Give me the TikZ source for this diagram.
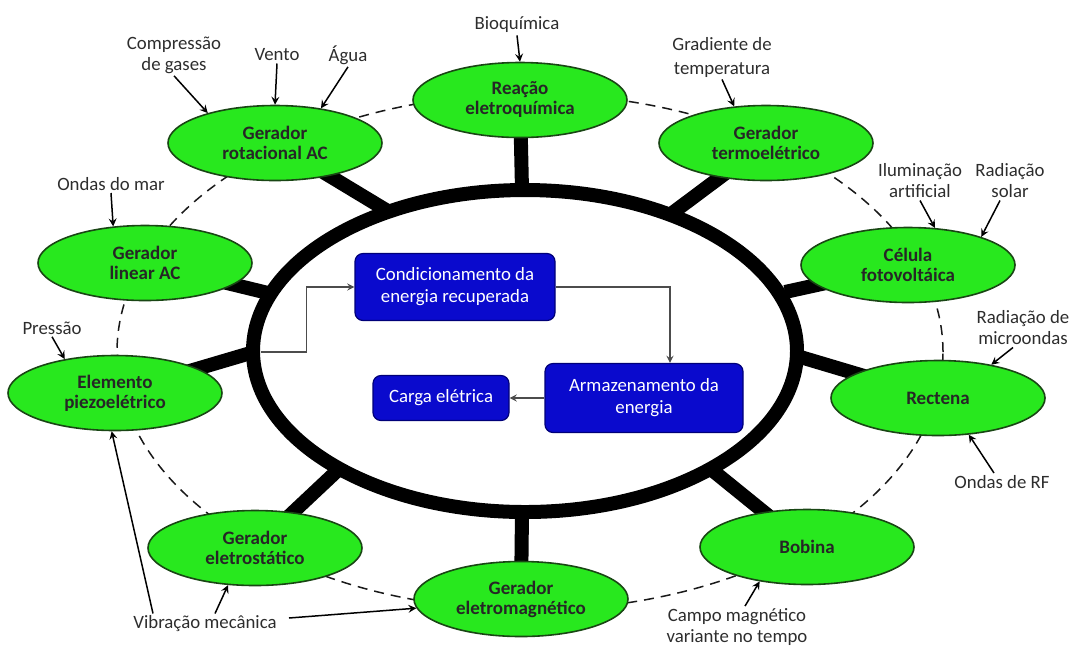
\documentclass[tikz,border=0pt]{standalone}
\usepackage{fontspec}
\setmainfont{Carlito}
\usepackage{tikz}
\usetikzlibrary{shapes,arrows,positioning,calc,backgrounds}

\definecolor{leafgreen}{RGB}{40,232,30}
\definecolor{leafedge}{RGB}{25,70,20}
\definecolor{boxblue}{RGB}{10,10,205}
\definecolor{boxedge}{RGB}{0,0,120}
\definecolor{notegray}{RGB}{45,45,45}

\begin{document}
\begin{tikzpicture}[x=0.5pt, y=-0.5pt,
    harvester/.style={ellipse, draw=leafedge, line width=0.8pt, fill=leafgreen, minimum width=107pt, minimum height=37.5pt, inner sep=1pt, align=center, font=\fontsize{9.5}{10}\selectfont\bfseries, text=black!85},
    block/.style={rectangle, rounded corners=4pt, draw=boxedge, line width=0.6pt, fill=boxblue, align=center, text=white, font=\fontsize{9.4}{11}\selectfont, inner sep=0pt},
    note/.style={align=center, text=notegray, font=\fontsize{9.4}{10.5}\selectfont, inner sep=1pt},
    arrow/.style={->, >=stealth, line width=0.75pt},
    flow/.style={->, >=stealth, line width=0.6pt, draw=black!70},
    stem/.style={line width=7pt},
    dashline/.style={dash pattern=on 5pt off 3.5pt, line width=0.75pt, draw=black!90}
]
    \useasboundingbox (0,0) rectangle (1075,650);

    % Harvesting elements
    \node[harvester] (rea) at (520,100) {Reação\\eletroquímica};
    \node[harvester] (rot) at (275,143) {Gerador\\rotacional AC};
    \node[harvester] (termo) at (766,143) {Gerador\\termoelétrico};
    \node[harvester] (lin) at (145,263) {Gerador\\linear AC};
    \node[harvester] (cel) at (908,265) {Célula\\fotovoltáica};
    \node[harvester] (piezo) at (115,393) {Elemento\\piezoelétrico};
    \node[harvester] (rect) at (938,398) {Rectena};
    \node[harvester] (estat) at (255,548) {Gerador\\eletrostático};
    \node[harvester] (bob) at (807,547) {Bobina};
    \node[harvester] (emag) at (521,599) {Gerador\\eletromagnético};

    % Inner blocks
    \node[block, minimum width=100pt, minimum height=33.5pt] (cond) at (455,287) {Condicionamento da\\energia recuperada};
    \node[block, minimum width=99pt, minimum height=34.5pt] (arm) at (644,398) {Armazenamento da\\energia};
    \node[block, minimum width=68pt, minimum height=22.5pt] (carga) at (441,398) {Carga elétrica};

    % Energy sources
    \node[note] (comp) at (174,55) {Compressão\\de gases};
    \node[note] (vento) at (277,55) {Vento};
    \node[note] (agua) at (348,55) {Água};
    \node[note] (mar) at (111,184) {Ondas do mar};
    \node[note] (bio) at (517,25) {Bioquímica};
    \node[note, font=\fontsize{9.4}{12}\selectfont] (grad) at (722,57) {Gradiente de\\temperatura};
    \node[note] (ilum) at (920,181) {Iluminação\\artificial};
    \node[note] (solar) at (1010,181) {Radiação\\solar};
    \node[note] (micro) at (1023,328) {Radiação de\\microondas};
    \node[note] (rf) at (1002,482) {Ondas de RF};
    \node[note] (campo) at (737,627) {Campo magnético\\variante no tempo};
    \node[note] (press) at (52,328) {Pressão};
    \node[note] (vib) at (205,624) {Vibração mecânica};

    % Ring points
    \coordinate (r-rea) at (522,190);
    \coordinate (r-emag) at (522,512);
    \coordinate (r-rot) at (386,210);
    \coordinate (r-termo) at (671,214);
    \coordinate (r-lin) at (268,293);
    \coordinate (r-cel) at (785,292);
    \coordinate (r-piezo) at (254,352);
    \coordinate (r-rect) at (797,356);
    \coordinate (r-estat) at (338,470);
    \coordinate (r-bob) at (712,470);

    \begin{scope}[on background layer]
        \draw[dashline] (530,352) ellipse [x radius=206.5pt, y radius=129pt];
        \draw[line width=7pt] (525,351) ellipse [x radius=136pt, y radius=80.5pt];
        \foreach \n in {rea,emag,rot,termo,lin,cel,piezo,rect,estat,bob}
            \draw[stem] (\n.center) -- (r-\n);
    \end{scope}

    % Source arrows
    \draw[arrow] (comp.south) -- (rot.156);
    \draw[arrow] (vento.south) -- (rot.north);
    \draw[arrow] (agua.south) -- (rot.37);
    \draw[arrow] (mar.south) -- (lin.131);
    \draw[arrow] (bio.south) -- (rea.north);
    \draw[arrow] (grad.south) -- (termo.131);
    \draw[arrow] (ilum.south) -- (cel.54);
    \draw[arrow] ([xshift=-5pt]solar.south) -- (cel.21);
    \draw[arrow] ([xshift=-5pt]micro.south) -- (rect.32);
    \draw[arrow] ([xshift=-4pt]rf.north) -- (rect.310);
    \draw[arrow] ([xshift=4pt]campo.north) -- (bob.216);
    \draw[arrow] (press.south) -- (piezo.146);
    \draw[arrow] ([xshift=-26pt]vib.north) -- (piezo.265);
    \draw[arrow] ([xshift=5pt]vib.north) -- (estat.234);
    \draw[arrow] ([xshift=5pt,yshift=3pt]vib.east) -- (emag.185);

    % Power path
    \draw[flow, shorten <=3.5pt] (r-piezo) -| ([xshift=-24pt]cond.west) -- (cond.west);
    \draw[flow] (cond.east) -| ([xshift=13pt]arm.north);
    \draw[flow] (arm.west) -- (carga.east);
\end{tikzpicture}
\end{document}
